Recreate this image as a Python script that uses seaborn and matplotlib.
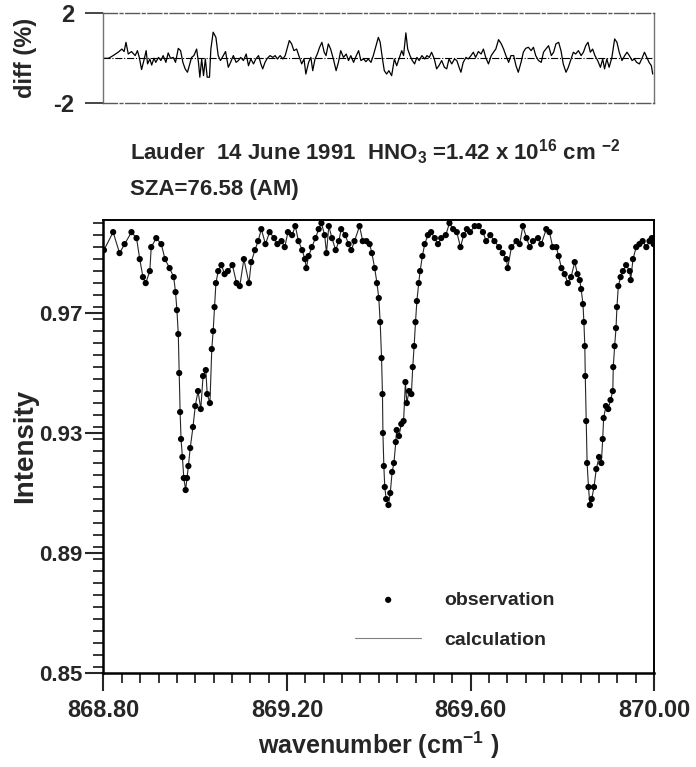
import numpy as np
import pandas as pd
import matplotlib
matplotlib.use('Agg')
import matplotlib.pyplot as plt
import seaborn as sns
from matplotlib.ticker import MultipleLocator, FormatStrFormatter

sns.set_style('ticks')
plt.rcParams.update({
    'font.family': ['Liberation Sans', 'DejaVu Sans'],
    'font.weight': 'bold',
    'mathtext.fontset': 'custom',
    'mathtext.rm': 'Liberation Sans:bold',
    'mathtext.it': 'Liberation Sans:bold',
    'mathtext.bf': 'Liberation Sans:bold',
    'mathtext.default': 'rm',
})

obs_wn = [
    868.801, 868.821, 868.835, 868.846, 868.861, 868.872, 868.879, 868.886, 868.892, 868.901,
    868.904, 868.915, 868.926, 868.934, 868.944, 868.953, 868.957, 868.960, 868.963, 868.965,
    868.967, 868.969, 868.972, 868.975, 868.979, 868.982, 868.985, 868.989, 868.995, 869.000,
    869.006, 869.012, 869.017, 869.023, 869.026, 869.032, 869.036, 869.039, 869.042, 869.045,
    869.050, 869.057, 869.064, 869.071, 869.081, 869.090, 869.097, 869.106, 869.117, 869.122,
    869.130, 869.137, 869.144, 869.153, 869.162, 869.172, 869.179, 869.188, 869.195, 869.202,
    869.211, 869.218, 869.225, 869.233, 869.239, 869.242, 869.247, 869.254, 869.262, 869.269,
    869.275, 869.282, 869.286, 869.291, 869.298, 869.306, 869.313, 869.318, 869.327, 869.334,
    869.340, 869.347, 869.358, 869.365, 869.373, 869.380, 869.385, 869.391, 869.396, 869.400,
    869.403, 869.406, 869.408, 869.409, 869.411, 869.413, 869.416, 869.421, 869.425, 869.429,
    869.433, 869.437, 869.439, 869.444, 869.449, 869.454, 869.458, 869.461, 869.466, 869.471,
    869.474, 869.477, 869.480, 869.483, 869.487, 869.490, 869.495, 869.500, 869.507, 869.514,
    869.522, 869.529, 869.536, 869.546, 869.554, 869.562, 869.570, 869.578, 869.585, 869.592,
    869.599, 869.609, 869.618, 869.627, 869.634, 869.643, 869.652, 869.662, 869.670, 869.678,
    869.681, 869.689, 869.700, 869.707, 869.714, 869.722, 869.729, 869.736, 869.747, 869.754,
    869.765, 869.772, 869.779, 869.787, 869.792, 869.798, 869.805, 869.812, 869.819, 869.827,
    869.833, 869.838, 869.841, 869.845, 869.847, 869.849, 869.850, 869.852, 869.854, 869.857,
    869.860, 869.864, 869.869, 869.874, 869.880, 869.885, 869.888, 869.890, 869.895, 869.900,
    869.905, 869.910, 869.911, 869.914, 869.917, 869.919, 869.922, 869.927, 869.932, 869.939,
    869.947, 869.949, 869.954, 869.961, 869.968, 869.975, 869.983, 869.990, 869.995, 869.999,
]
obs_int = [
    0.991, 0.997, 0.990, 0.993, 0.997, 0.995, 0.988, 0.982, 0.980, 0.984,
    0.992, 0.995, 0.993, 0.988, 0.985, 0.982, 0.977, 0.971, 0.963, 0.950,
    0.937, 0.928, 0.922, 0.915, 0.911, 0.915, 0.919, 0.925, 0.932, 0.939,
    0.944, 0.938, 0.949, 0.951, 0.943, 0.940, 0.958, 0.964, 0.972, 0.980,
    0.984, 0.986, 0.983, 0.984, 0.986, 0.980, 0.979, 0.988, 0.980, 0.987,
    0.991, 0.994, 0.998, 0.993, 0.997, 0.995, 0.993, 0.994, 0.992, 0.997,
    0.996, 0.999, 0.994, 0.991, 0.988, 0.985, 0.989, 0.992, 0.995, 0.998,
    1.000, 0.996, 0.990, 0.999, 0.995, 0.991, 0.994, 0.998, 0.996, 0.993,
    0.991, 0.994, 0.999, 0.994, 0.994, 0.993, 0.990, 0.985, 0.980, 0.975,
    0.967, 0.955, 0.943, 0.930, 0.919, 0.912, 0.908, 0.906, 0.910, 0.917,
    0.920, 0.927, 0.931, 0.929, 0.933, 0.934, 0.947, 0.940, 0.944, 0.943,
    0.952, 0.959, 0.967, 0.974, 0.980, 0.984, 0.989, 0.993, 0.996, 0.997,
    0.995, 0.993, 0.995, 0.996, 1.000, 0.998, 0.997, 0.992, 0.996, 0.998,
    0.997, 0.999, 0.999, 0.997, 0.994, 0.996, 0.994, 0.992, 0.990, 0.988,
    0.985, 0.992, 0.994, 0.993, 0.999, 0.995, 0.992, 0.994, 0.995, 0.993,
    0.998, 0.997, 0.992, 0.992, 0.989, 0.985, 0.983, 0.980, 0.982, 0.987,
    0.983, 0.981, 0.978, 0.973, 0.967, 0.959, 0.949, 0.934, 0.920, 0.912,
    0.906, 0.908, 0.912, 0.918, 0.922, 0.920, 0.928, 0.935, 0.939, 0.938,
    0.941, 0.944, 0.952, 0.959, 0.965, 0.972, 0.979, 0.982, 0.984, 0.986,
    0.984, 0.981, 0.988, 0.992, 0.993, 0.994, 0.992, 0.994, 0.995, 0.993,
]

# residual (obs - calc) in percent, top panel
diff_wn = [
    868.801, 868.811, 868.821, 868.832, 868.840, 868.845, 868.849, 868.854, 868.861, 868.869,
    868.874, 868.878, 868.883, 868.888, 868.893, 868.896, 868.901, 868.905, 868.910, 868.914,
    868.920, 868.925, 868.930, 868.936, 868.941, 868.946, 868.952, 868.957, 868.963, 868.968,
    868.973, 868.978, 868.983, 868.987, 868.992, 868.997, 869.003, 869.007, 869.010, 869.014,
    869.018, 869.022, 869.026, 869.031, 869.034, 869.039, 869.045, 869.050, 869.055, 869.061,
    869.066, 869.072, 869.077, 869.083, 869.089, 869.094, 869.099, 869.105, 869.111, 869.116,
    869.121, 869.127, 869.132, 869.138, 869.143, 869.147, 869.152, 869.157, 869.163, 869.169,
    869.174, 869.179, 869.185, 869.191, 869.196, 869.201, 869.205, 869.210, 869.215, 869.221,
    869.227, 869.232, 869.237, 869.241, 869.247, 869.252, 869.256, 869.261, 869.266, 869.271,
    869.276, 869.281, 869.285, 869.290, 869.295, 869.301, 869.307, 869.312, 869.317, 869.323,
    869.329, 869.334, 869.339, 869.345, 869.351, 869.356, 869.361, 869.367, 869.372, 869.377,
    869.383, 869.388, 869.394, 869.399, 869.403, 869.408, 869.412, 869.417, 869.422, 869.428,
    869.434, 869.439, 869.444, 869.450, 869.454, 869.459, 869.463, 869.468, 869.473, 869.478,
    869.483, 869.488, 869.494, 869.500, 869.505, 869.510, 869.515, 869.521, 869.526, 869.531,
    869.537, 869.543, 869.548, 869.553, 869.559, 869.565, 869.570, 869.575, 869.579, 869.584,
    869.590, 869.595, 869.601, 869.606, 869.611, 869.617, 869.623, 869.628, 869.633, 869.639,
    869.645, 869.650, 869.655, 869.661, 869.667, 869.672, 869.677, 869.683, 869.688, 869.694,
    869.699, 869.704, 869.710, 869.715, 869.720, 869.726, 869.732, 869.737, 869.742, 869.748,
    869.754, 869.759, 869.764, 869.770, 869.776, 869.781, 869.786, 869.792, 869.797, 869.802,
    869.808, 869.813, 869.819, 869.824, 869.829, 869.835, 869.841, 869.846, 869.851, 869.856,
    869.861, 869.866, 869.871, 869.877, 869.883, 869.888, 869.892, 869.897, 869.902, 869.908,
    869.914, 869.919, 869.924, 869.930, 869.936, 869.941, 869.946, 869.952, 869.957, 869.962,
    869.968, 869.973, 869.979, 869.984, 869.989, 869.994, 869.997,
]
diff_pct = [
    0.00, 0.00, 0.12, 0.27, 0.41, 0.30, 0.71, 0.19, 0.30, 0.12,
    0.34, 0.04, -0.50, -0.10, 0.34, -0.25, -0.03, -0.30, 0.00, -0.18,
    0.04, -0.10, 0.12, -0.18, 0.24, 0.00, 0.04, -0.18, 0.44, 0.34,
    -0.18, -0.47, -0.62, -0.33, 0.04, 0.12, 0.41, -0.18, -0.84, -0.03,
    -0.77, -0.03, -0.84, -0.84, 0.41, 1.16, 0.93, 0.12, -0.10, 0.12,
    0.30, -0.40, -0.18, 0.12, -0.18, -0.10, 0.04, -0.10, 0.19, -0.33,
    -0.03, -0.25, -0.03, 0.12, -0.25, -0.47, -0.18, 0.00, 0.12, 0.04,
    0.12, -0.03, 0.12, -0.03, 0.12, 0.49, 0.79, 0.64, 0.34, 0.41,
    0.04, -0.25, -0.03, -0.70, -0.18, 0.04, -0.55, -0.03, 0.19, 0.49,
    0.71, 0.27, 0.12, 0.64, 0.41, -0.03, -0.55, -0.18, 0.34, 0.04,
    0.19, -0.10, 0.12, -0.18, 0.12, 0.34, -0.10, -0.03, -0.15, -0.03,
    -0.18, 0.12, 0.56, 0.93, 0.71, -0.03, -0.55, -0.70, -0.55, -0.77,
    -0.03, -0.33, -0.03, 0.34, 0.12, 1.13, 0.41, 0.12, -0.10, -0.25,
    0.04, -0.10, 0.12, -0.03, 0.12, 0.04, 0.27, -0.03, -0.47, -0.33,
    -0.10, -0.40, -0.47, -0.03, -0.25, -0.03, -0.10, -0.40, -0.62, -0.18,
    0.04, -0.03, 0.12, 0.27, 0.04, 0.30, 0.19, 0.41, 0.04, -0.25,
    0.12, 0.27, 0.41, 0.83, 0.64, 0.41, 0.12, -0.18, 0.12, 0.12,
    -0.33, -0.62, -0.18, 0.27, 0.44, 0.49, 0.34, 0.49, 0.12, -0.10,
    -0.18, 0.27, 0.41, 0.56, 0.12, 0.27, 0.64, 0.71, 0.34, -0.25,
    -0.62, -0.40, -0.03, 0.27, 0.19, 0.34, 0.12, 0.27, 0.56, 0.71,
    0.27, 0.41, 0.12, -0.10, -0.40, -0.03, -0.47, -0.03, -0.40, 0.04,
    0.86, 0.71, 0.27, -0.10, 0.12, 0.27, 0.12, -0.10, -0.03, -0.18,
    -0.25, -0.03, 0.27, 0.04, -0.18, -0.33, -0.70,
]

xtick_vals = [868.80, 869.20, 869.60, 870.00]
ytick_vals = [0.85, 0.89, 0.93, 0.97]
dtick_vals = [-2, 2]

obs = pd.DataFrame({'wn': obs_wn, 'I': obs_int})
dif = pd.DataFrame({'wn': diff_wn, 'd': diff_pct})

fig = plt.figure(figsize=(6.96, 7.67), dpi=100)
ax_d = fig.add_axes([0.1487, 0.8653, 0.7911, 0.1174])
ax = fig.add_axes([0.1487, 0.1226, 0.7911, 0.5912])

# ---- top panel: residuals ----
ax_d.axhline(0, color='black', lw=0.8, ls='-.')
sns.lineplot(data=dif, x='wn', y='d', ax=ax_d, color='black', lw=0.9,
             estimator=None, sort=False)
ax_d.set_xlim(868.80, 870.00)
ax_d.set_ylim(-2, 2)
ax_d.set_xticks([])
ax_d.set_yticks(dtick_vals)
ax_d.set_yticklabels(['-2', '2'])
ax_d.tick_params(axis='y', direction='out', length=13, width=1.2, pad=8, labelsize=17)
ax_d.set_xlabel('')
ax_d.set_ylabel('diff (%)', fontsize=17, fontweight='bold', labelpad=12)
for side in ['top', 'bottom']:
    ax_d.spines[side].set_color('0.35')
    ax_d.spines[side].set_linestyle((0, (10, 2, 2, 2)))
    ax_d.spines[side].set_linewidth(1.0)
for side in ['left', 'right']:
    ax_d.spines[side].set_color('0.45')
    ax_d.spines[side].set_linewidth(1.0)

# ---- main panel: spectrum ----
sns.lineplot(data=obs, x='wn', y='I', ax=ax, color='0.15', lw=0.8,
             estimator=None, sort=False, label='calculation')
sns.scatterplot(data=obs, x='wn', y='I', ax=ax, color='black', s=20,
                edgecolor='none', label='observation', zorder=3)
ax.set_xlim(868.80, 870.00)
ax.set_ylim(0.85, 1.0012)
ax.set_xticks(xtick_vals)
ax.set_yticks(ytick_vals)
ax.xaxis.set_major_formatter(FormatStrFormatter('%.2f'))
ax.yaxis.set_major_formatter(FormatStrFormatter('%.2f'))
ax.xaxis.set_minor_locator(MultipleLocator(0.04))
ax.yaxis.set_minor_locator(MultipleLocator(0.004))
ax.tick_params(which='major', direction='out', length=13, width=1.5)
ax.tick_params(axis='x', which='major', labelsize=17, pad=6)
ax.tick_params(axis='y', which='major', labelsize=16, pad=2)
ax.tick_params(which='minor', direction='out', length=7, width=1.3)
ax.tick_params(top=False, right=False, which='both')
for lab in ax.get_xticklabels() + ax.get_yticklabels():
    lab.set_fontweight('bold')
for lab in ax_d.get_yticklabels():
    lab.set_fontweight('bold')
for side in ['left', 'bottom']:
    ax.spines[side].set_linewidth(1.8)
for side in ['top', 'right']:
    ax.spines[side].set_linewidth(1.4)
for sp in ax.spines.values():
    sp.set_color('black')

ax.set_xlabel('wavenumber (cm$^{-1}$ )', fontsize=18, fontweight='bold', labelpad=5)
ax.set_ylabel('Intensity', fontsize=20, fontweight='bold', labelpad=1)

h, l = ax.get_legend_handles_labels()
order = [l.index('observation'), l.index('calculation')]
leg = ax.legend([h[i] for i in order], [l[i] for i in order], loc='upper left',
                bbox_to_anchor=(0.457, 0.18), frameon=False,
                handlelength=3.4, handletextpad=1.2, labelspacing=1.15, borderpad=0,
                borderaxespad=0, prop={'weight': 'bold', 'size': 14})
for hl in leg.legend_handles:
    if not hasattr(hl, 'get_offsets'):
        hl.set_color('0.5')

# header text
fig.text(130 / 696, 1 - 160 / 767,
         'Lauder  14 June 1991  HNO$_{3}$ =1.42 x 10$^{16}$ cm $^{-2}$',
         fontsize=16, fontweight='bold', ha='left', va='baseline')
fig.text(130 / 696, 1 - 195 / 767, 'SZA=76.58 (AM)',
         fontsize=16, fontweight='bold', ha='left', va='baseline')

fig.savefig('out.png', dpi=100)
